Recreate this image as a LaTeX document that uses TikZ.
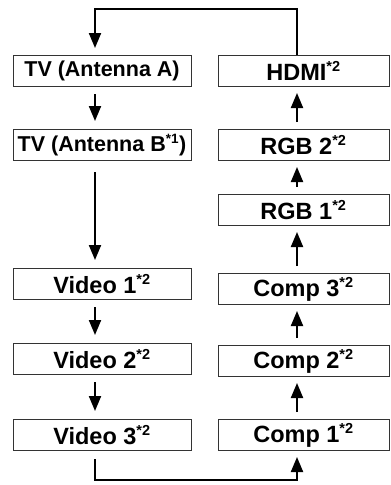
\documentclass[tikz,border=0pt]{standalone}
\usepackage{fontspec}
\setmainfont{Liberation Sans}
\usetikzlibrary{arrows.meta}
\begin{document}
\begin{tikzpicture}[x=1pt,y=-1pt,
  box/.style={draw=black!80,line width=1pt,rectangle,inner sep=0pt,minimum height=31pt,font=\bfseries\fontsize{23.5}{25}\selectfont},
  lbox/.style={box,minimum width=178pt},
  rbox/.style={box,minimum width=171pt},
  tvfont/.style={font=\bfseries\fontsize{21.5}{23}\selectfont},
  arr/.style={line width=2pt,-{Triangle[width=12pt,length=15pt]}},
  conn/.style={line width=2pt}]
\useasboundingbox (0,0) rectangle (391,485);
\newcommand{\sq}[1]{\textsuperscript{\fontsize{14.5}{14.5}\selectfont *#1}}
\node[lbox,tvfont] (tva) at (102,71) {TV (Antenna A)};
\node[lbox,tvfont] (tvb) at (102,145) {TV (Antenna B\textsuperscript{\fontsize{13.5}{13.5}\selectfont *1})};
\node[lbox] (v1) at (102,284) {Video 1\sq{2}};
\node[lbox] (v2) at (102,359) {Video 2\sq{2}};
\node[lbox] (v3) at (102,435) {Video 3\sq{2}};
\node[rbox] (hdmi) at (303.5,71) {HDMI\sq{2}};
\node[rbox] (rgb2) at (303.5,145) {RGB 2\sq{2}};
\node[rbox] (rgb1) at (303.5,210) {RGB 1\sq{2}};
\node[rbox] (c3) at (303.5,289) {Comp 3\sq{2}};
\node[rbox] (c2) at (303.5,361) {Comp 2\sq{2}};
\node[rbox] (c1) at (303.5,435) {Comp 1\sq{2}};
% left column, downward
\draw[arr] ([xshift=-7pt,yshift=-7pt]tva.south) -- ([xshift=-7pt,yshift=8pt]tvb.north);
\draw[arr] ([xshift=-7pt,yshift=-11pt]tvb.south) -- ([xshift=-7pt,yshift=8pt]v1.north);
\draw[arr] ([xshift=-7pt,yshift=-7pt]v1.south) -- ([xshift=-7pt,yshift=8pt]v2.north);
\draw[arr] ([xshift=-7pt,yshift=-7pt]v2.south) -- ([xshift=-7pt,yshift=8pt]v3.north);
% right column, upward
\draw[arr] ([xshift=-6.5pt,yshift=7pt]c2.north) -- ([xshift=-6.5pt,yshift=-6pt]c3.south);
\draw[arr] ([xshift=-6.5pt,yshift=7pt]c1.north) -- ([xshift=-6.5pt,yshift=-6pt]c2.south);
\draw[arr] ([xshift=-6.5pt,yshift=7pt]c3.north) -- ([xshift=-6.5pt,yshift=-6pt]rgb1.south);
\draw[arr] ([xshift=-6.5pt,yshift=7pt]rgb1.north) -- ([xshift=-6.5pt,yshift=-6pt]rgb2.south);
\draw[arr] ([xshift=-6.5pt,yshift=7pt]rgb2.north) -- ([xshift=-6.5pt,yshift=-6pt]hdmi.south);
% loops
\coordinate (tl) at (95,9);
\coordinate (tr) at (297,9);
\coordinate (bl) at (95,480);
\coordinate (br) at (297,480);
\draw[arr] ([xshift=-6.5pt]hdmi.north) -- (tr) -- (tl) -- ([xshift=-7pt,yshift=7pt]tva.north);
\draw[arr] ([xshift=-7pt,yshift=-8pt]v3.south) -- (bl) -- (br) -- ([xshift=-6.5pt,yshift=-6pt]c1.south);
\end{tikzpicture}
\end{document}
